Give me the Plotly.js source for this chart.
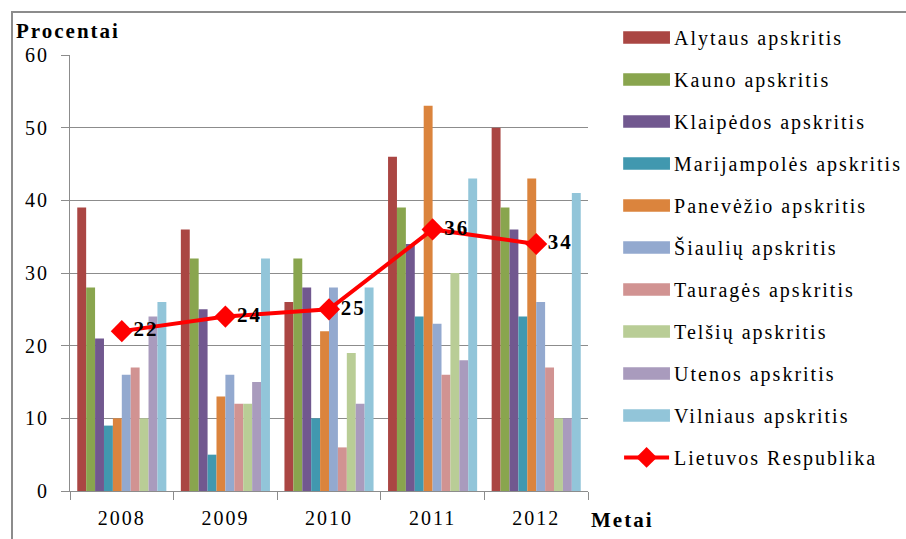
<!DOCTYPE html>
<html><head><meta charset="utf-8">
<script src="https://cdn.plot.ly/plotly-3.0.1.min.js"></script>
<style>
html,body{margin:0;padding:0;background:#fff;overflow:hidden;}
#wrap{position:relative;width:906px;height:539px;overflow:hidden;}
#chart{width:906px;height:539px;}
#chart text{letter-spacing:2px;}
#chart .legend .scrollbox{clip-path:none !important;}
#frame{position:absolute;left:11px;top:11px;width:920px;height:560px;border:2px solid #8c8c8c;box-sizing:border-box;pointer-events:none;}
</style></head>
<body>
<div id="wrap"><div id="chart"></div><div id="frame"></div></div>
<script>
const years = ['2008','2009','2010','2011','2012'];
const regionNames = ['Alytaus apskritis','Kauno apskritis','Klaipėdos apskritis','Marijampolės apskritis','Panevėžio apskritis','Šiaulių apskritis','Tauragės apskritis','Telšių apskritis','Utenos apskritis','Vilniaus apskritis'];
const alytus = [39,36,26,46,50];
const kaunas = [28,32,32,39,39];
const klaipeda = [21,25,28,34,36];
const marijampole = [9,5,10,24,24];
const panevezys = [10,13,22,53,43];
const siauliai = [16,16,28,23,26];
const taurage = [17,12,6,16,17];
const telsiai = [10,12,19,30,10];
const utena = [24,15,12,18,10];
const vilnius = [26,32,28,43,41];
const lietuva = [22,24,25,36,34];
const lineName = 'Lietuvos Respublika';
const yTicks = [0,10,20,30,40,50,60];

const colors = ['#AA4643','#89A54E','#71588F','#4198AF','#DB843D','#93A9CF','#D19392','#B9CD96','#A99BBD','#92C5D9'];
const series = [alytus,kaunas,klaipeda,marijampole,panevezys,siauliai,taurage,telsiai,utena,vilnius];
const font = 'Liberation Serif, Times New Roman, serif';

const traces = series.map((v,i)=>({
  type:'bar', x:years, y:v, name:regionNames[i], marker:{color:colors[i]}, legendgroup:'g'+i
}));
traces.push({
  type:'scatter', mode:'lines+markers+text', x:years, y:lietuva, name:lineName,
  line:{color:'#FF0000', width:4}, marker:{symbol:'diamond', size:17, color:'#FF0000'},
  text:lietuva.map(String), textposition:'middle right',
  textfont:{family:font, size:21, color:'#000', weight:'bold'}, legendgroup:'g10'
});

const layout = {
  width:906, height:539,
  margin:{l:70, r:318, t:55, b:48},
  paper_bgcolor:'#fff', plot_bgcolor:'#fff',
  font:{family:font, size:20, color:'#000'},
  barmode:'group', bargap:0.14, bargroupgap:0,
  showlegend:true,
  legend:{x:1.06, xanchor:'left', y:1.085, yanchor:'top', font:{family:font, size:20, color:'#000'},
    tracegroupgap:13, itemwidth:45, traceorder:'grouped', maxheight:530, bgcolor:'rgba(0,0,0,0)'},
  xaxis:{type:'category', showline:true, linecolor:'#8c8c8c', linewidth:1, ticks:'outside', tickson:'boundaries',
    ticklen:8, tickcolor:'#8c8c8c', showgrid:false, tickfont:{family:font, size:20}, zeroline:false, ticklabelstandoff:9},
  yaxis:{range:[0,60], tickvals:yTicks, ticks:'outside', ticklen:8, tickcolor:'#8c8c8c', showline:true,
    linecolor:'#8c8c8c', linewidth:1, gridcolor:'#8c8c8c', gridwidth:1, zeroline:false, tickfont:{family:font, size:20}, ticklabelstandoff:8},
  annotations:[
    {text:'<b>Procentai</b>', xref:'paper', yref:'paper', x:-0.09, y:1.055, xanchor:'left', yanchor:'middle', showarrow:false, font:{family:font, size:21}},
    {text:'<b>Metai</b>', xref:'paper', yref:'paper', x:1.012, y:-0.0665, xanchor:'left', yanchor:'middle', showarrow:false, font:{family:font, size:21}}
  ]
};
Plotly.newPlot('chart', traces, layout, {displayModeBar:false, staticPlot:true}).then(gd => {
  gd.querySelectorAll('.legend .legendpoints path').forEach(p => {
    if (p.classList.contains('scatterpts')) return;
    const t = p.getAttribute('transform') || '';
    p.setAttribute('transform', t + ' scale(3.9,1.05)');
  });
});
</script>
</body></html>
